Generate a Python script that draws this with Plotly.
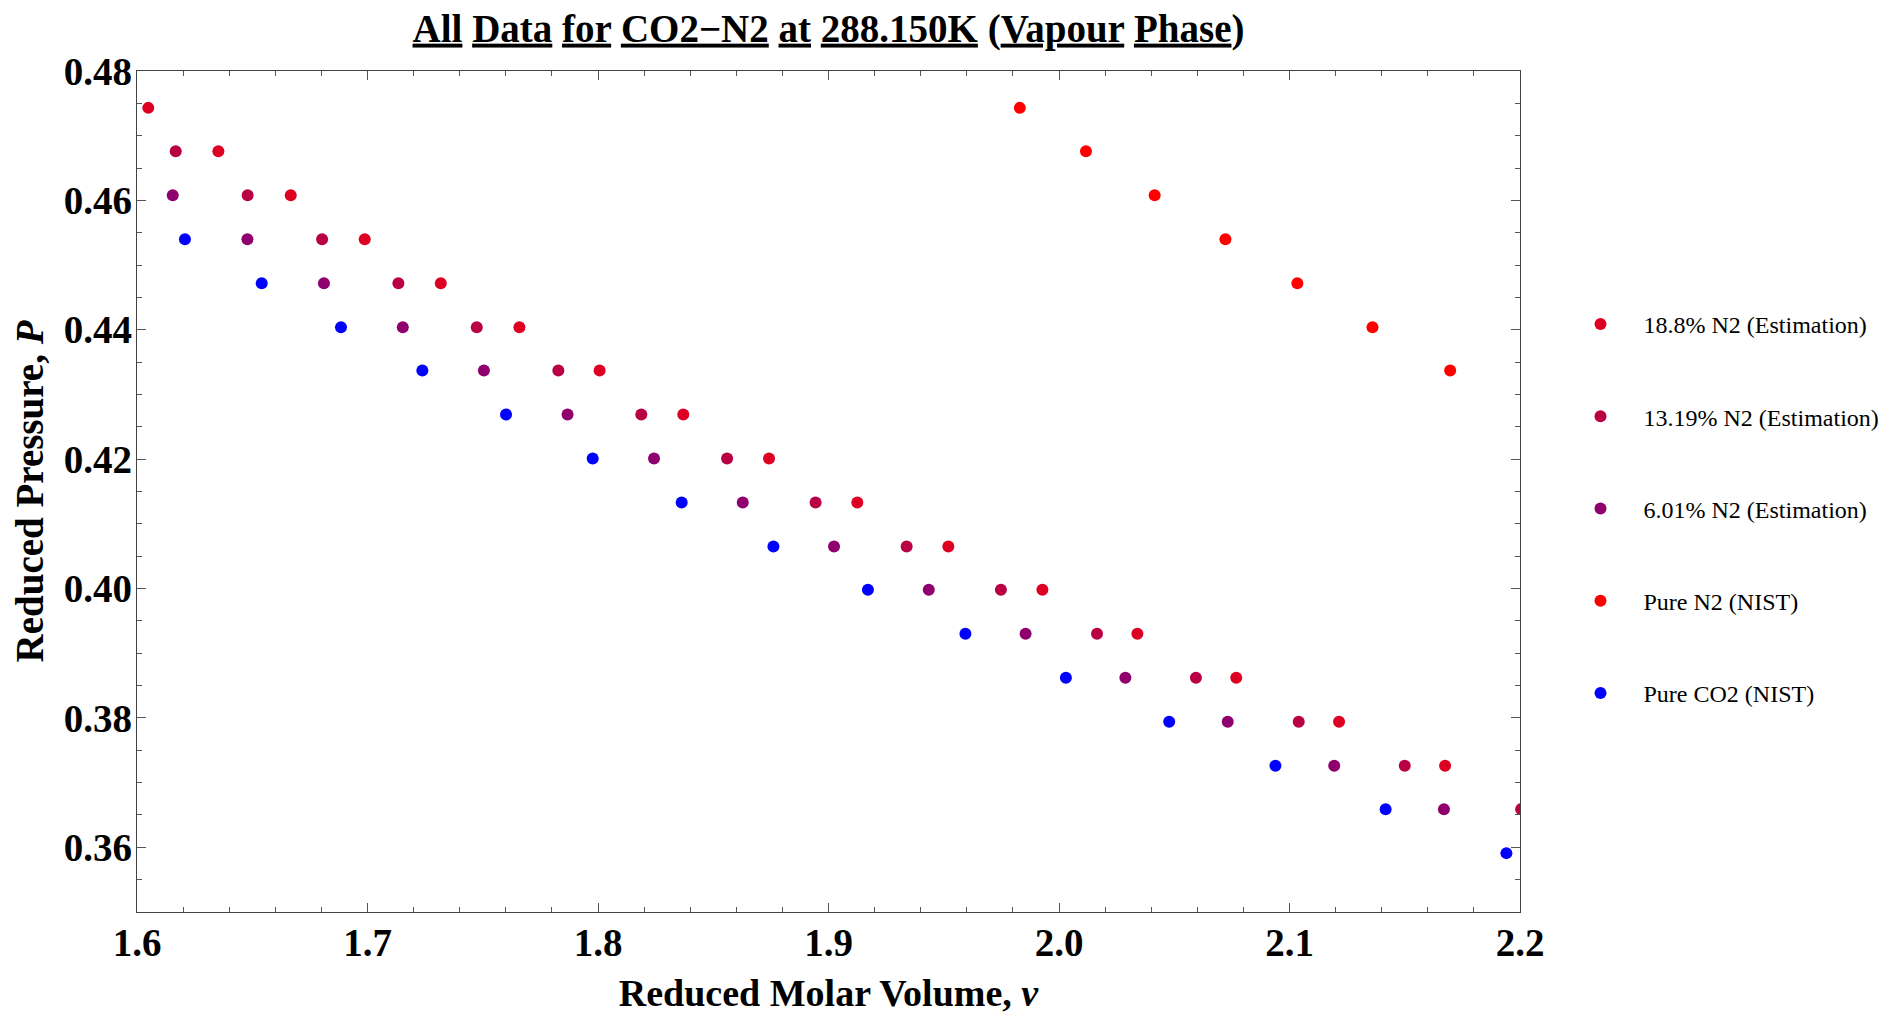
import plotly.graph_objects as go

# Pressure levels (reduced pressure, P)
p_levels = [0.4743, 0.4676, 0.4608, 0.4540, 0.4472, 0.4404, 0.4337, 0.4269, 0.4201,
            0.4133, 0.4065, 0.3998, 0.3930, 0.3862, 0.3794, 0.3726, 0.3659, 0.3591]

# Reduced molar volume per series
v_mix188 = [1.6049, 1.6353, 1.6667, 1.6988, 1.7318, 1.7659, 1.8007, 1.8370, 1.8742,
            1.9125, 1.9520, 1.9928, 2.0340, 2.0769, 2.1215, 2.1675]
p_mix188 = p_levels[0:16]

v_mix1319 = [1.6168, 1.6480, 1.6803, 1.7134, 1.7474, 1.7828, 1.8188, 1.8560, 1.8944,
             1.9339, 1.9748, 2.0165, 2.0594, 2.1040, 2.1500, 2.2005]
p_mix1319 = p_levels[1:17]

v_mix601 = [1.6155, 1.6479, 1.6811, 1.7153, 1.7505, 1.7868, 1.8243, 1.8628, 1.9024,
            1.9435, 1.9855, 2.0288, 2.0732, 2.1194, 2.1670]
p_mix601 = p_levels[2:17]

v_n2 = [1.9830, 2.0117, 2.0415, 2.0722, 2.1034, 2.1360, 2.1697]
p_n2 = p_levels[0:7]

v_co2 = [1.6208, 1.6541, 1.6885, 1.7238, 1.7601, 1.7977, 1.8363, 1.8761, 1.9171,
         1.9594, 2.0030, 2.0478, 2.0939, 2.1417, 2.1941]
p_co2 = p_levels[3:18]

series = [
    ("18.8% N2 (Estimation)", v_mix188, p_mix188, "rgb(222,0,34)"),
    ("13.19% N2 (Estimation)", v_mix1319, p_mix1319, "rgb(185,0,68)"),
    ("6.01% N2 (Estimation)", v_mix601, p_mix601, "rgb(143,0,110)"),
    ("Pure N2 (NIST)", v_n2, p_n2, "rgb(255,0,0)"),
    ("Pure CO2 (NIST)", v_co2, p_co2, "rgb(0,0,255)"),
]

x_ticks = [1.6, 1.7, 1.8, 1.9, 2.0, 2.1, 2.2]
x_ticktext = ["1.6", "1.7", "1.8", "1.9", "2.0", "2.1", "2.2"]
y_ticks = [0.36, 0.38, 0.40, 0.42, 0.44, 0.46, 0.48]
y_ticktext = ["0.36", "0.38", "0.40", "0.42", "0.44", "0.46", "0.48"]

FONT = "Liberation Serif, Times New Roman, serif"

# page body has an 8px margin; figure sized so the plot lands where the reference has it
W, H = 1882, 1011
L, R, T, B = 129, 370, 63, 107
PW, PH = W - L - R, H - T - B

fig = go.Figure()
for i, (name, xs, ys, col) in enumerate(series):
    fig.add_trace(go.Scatter(
        x=xs, y=ys, mode="markers", name=name, legendgroup=f"g{i}",
        marker=dict(color=col, size=12, line=dict(width=0)),
    ))

title_text = ("<b><u>All</u> <u>Data</u> <u>for</u> <u>CO2−N2</u> <u>at</u> "
              "<u>288.150K</u> (<u>Vapour</u> <u>Phase</u>)</b>")

fig.update_layout(
    width=W, height=H,
    paper_bgcolor="white", plot_bgcolor="white",
    margin=dict(l=L, r=R, t=T, b=B, autoexpand=False),
    font=dict(family=FONT, color="black"),
    title=dict(text=title_text, x=(L + PW / 2) / W, xanchor="center",
               y=1 - 20 / H, yanchor="middle",
               font=dict(size=39, family=FONT, color="black")),
    showlegend=True,
    legend=dict(x=1 + (1557.5 - 8 - L - PW) / PW, xref="paper",
                y=1 - (302 - 71) / PH, yanchor="top",
                font=dict(size=24, family=FONT, color="black"),
                tracegroupgap=58, traceorder="grouped",
                bgcolor="rgba(0,0,0,0)", itemwidth=76),
    xaxis=dict(range=[1.6, 2.2], tickvals=x_ticks, ticktext=x_ticktext,
               ticks="inside", ticklen=9, tickwidth=1, tickcolor="#555",
               minor=dict(dtick=0.02, tick0=1.6, ticks="inside", ticklen=5, tickcolor="#555", showgrid=False),
               showline=True, linecolor="#444", linewidth=1.2, mirror="ticks",
               showgrid=False, zeroline=False, ticklabelstandoff=-4,
               tickfont=dict(size=39, family=FONT, color="black", weight="bold"),
               title=dict(text="<b>Reduced Molar Volume, <i>v</i></b>",
                          font=dict(size=38, family=FONT, color="black"), standoff=16)),
    yaxis=dict(range=[0.35, 0.48], tickvals=y_ticks, ticktext=y_ticktext,
               ticks="inside", ticklen=9, tickwidth=1, tickcolor="#555",
               minor=dict(dtick=0.005, tick0=0.35, ticks="inside", ticklen=5, tickcolor="#555", showgrid=False),
               showline=True, linecolor="#444", linewidth=1.2, mirror="ticks",
               showgrid=False, zeroline=False, ticklabelstandoff=-4,
               tickfont=dict(size=39, family=FONT, color="black", weight="bold"),
               title=dict(text="<b>Reduced Pressure, <i>P</i></b>",
                          font=dict(size=39, family=FONT, color="black"), standoff=14)),
)

fig.write_html("out.html")
